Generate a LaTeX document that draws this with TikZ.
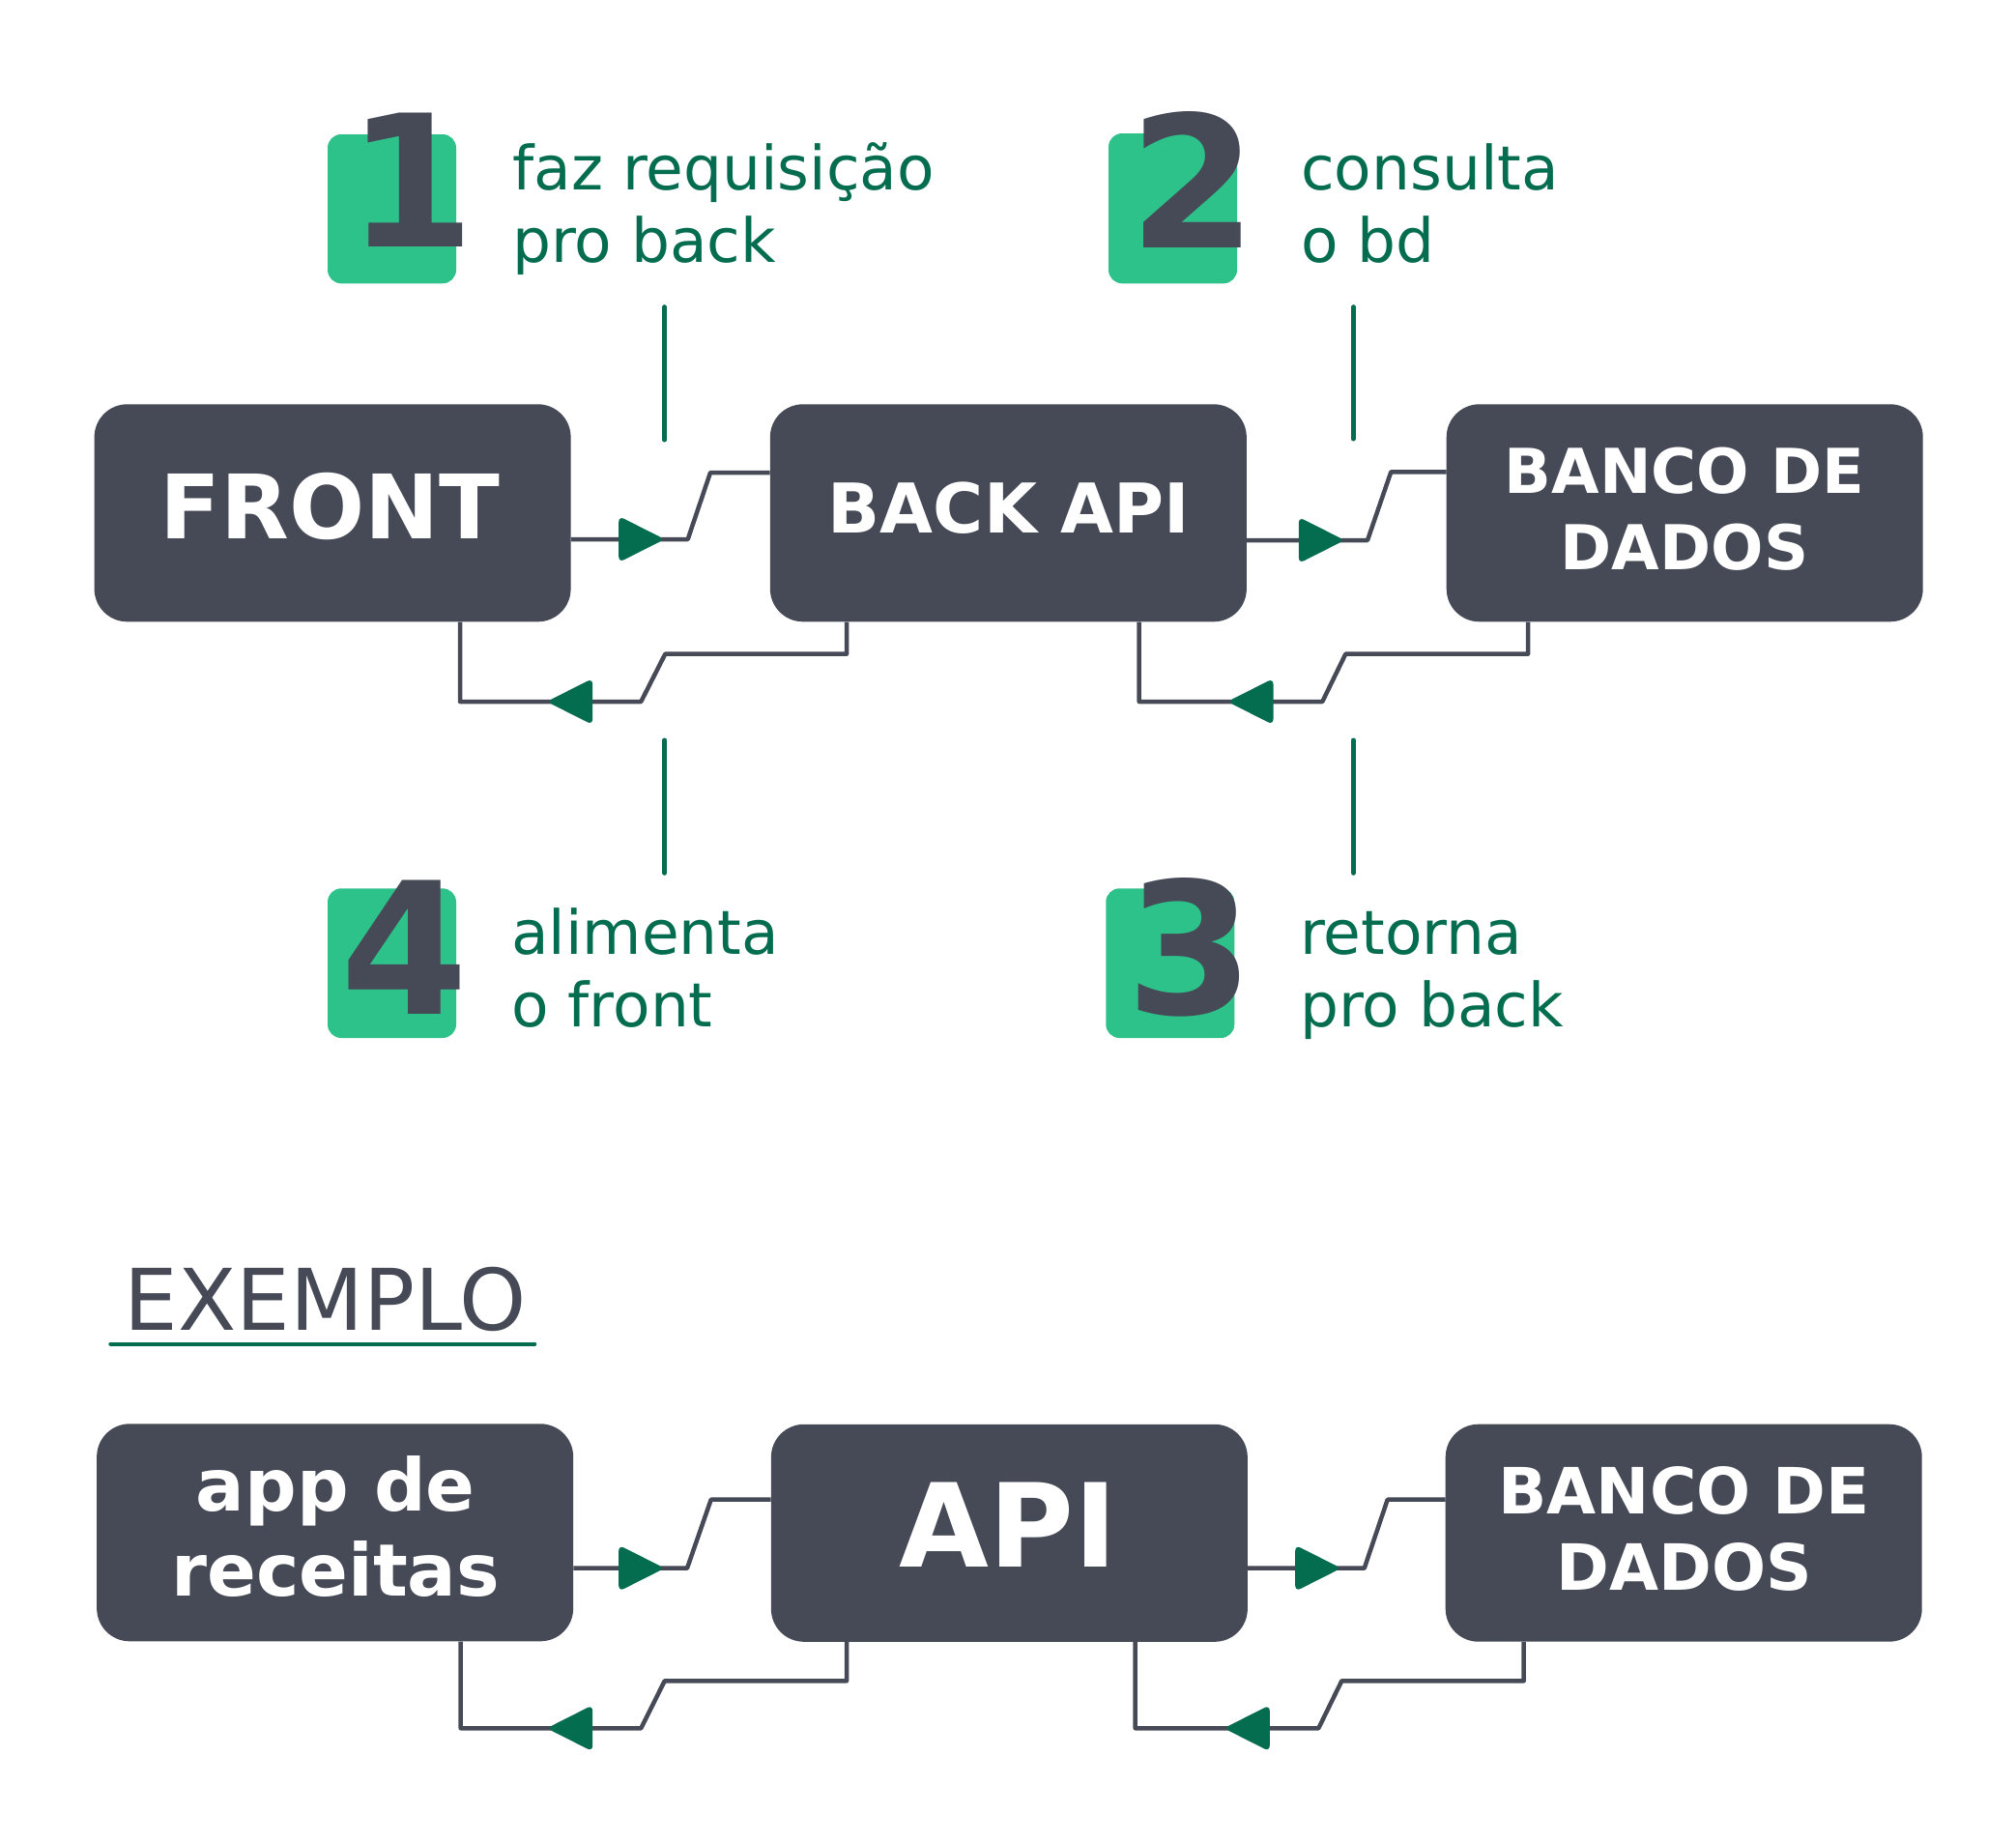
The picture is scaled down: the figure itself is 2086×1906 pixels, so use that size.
\documentclass[tikz,border=0pt]{standalone}
\usepackage{fontspec}
\setmainfont{DejaVu Sans}
\definecolor{boxgray}{HTML}{464A56}
\definecolor{badgegreen}{HTML}{2EC28B}
\definecolor{dgreen}{HTML}{046C4F}
\begin{document}
\begin{tikzpicture}[x=1pt,y=-1pt,
  box/.style={fill=boxgray, rounded corners=34pt, minimum width=493pt, minimum height=225pt, inner sep=0pt},
  badge/.style={fill=badgegreen, rounded corners=14pt},
  btxt/.style={text=white, font=\bfseries\fontsize{#1}{#1}\selectfont, inner sep=0pt, anchor=base},
  dig/.style={text=boxgray, font=\bfseries\fontsize{190}{190}\selectfont, inner sep=0pt, anchor=base},
  lbl/.style={text=dgreen, font=\fontsize{63}{75}\selectfont, inner sep=0pt, anchor=base west},
  conn/.style={draw=boxgray, line width=4.5pt, line join=round},
  tick/.style={draw=dgreen, line width=5pt, line cap=round},
  arrR/.pic={\fill[dgreen, rounded corners=6pt] (6,0) -- (-41.5,-24) -- (-41.5,24) -- cycle;},
  arrL/.pic={\fill[dgreen, rounded corners=6pt] (-6,0) -- (41.5,-24) -- (41.5,24) -- cycle;}
]
\useasboundingbox (0,0) rectangle (2086,1906);

% badges
\fill[badge] (339,139) rectangle (472,293.3);
\fill[badge] (1147,138) rectangle (1280,293.3);
\fill[badge] (339,919.3) rectangle (472,1074);
\fill[badge] (1144.3,919.3) rectangle (1277.3,1074);
\node[dig] (n1) at (426,255.7) {1};
\node[dig] (n2) at (1235,256) {2};
\node[dig] (n4) at (419,1049) {4};
\node[dig] (n3) at (1231.7,1049) {3};

% step labels
\node[lbl] (l1a) at (530,196.7) {faz requisição};
\node[lbl] (l1b) at (530,271.7) {pro back};
\node[lbl] (l2a) at (1346,196.7) {consulta};
\node[lbl] (l2b) at (1346,271.7) {o bd};
\node[lbl] (l4a) at (529,987.3) {alimenta};
\node[lbl] (l4b) at (529,1062.7) {o front};
\node[lbl] (l3a) at (1345,987.3) {retorna};
\node[lbl] (l3b) at (1345,1062.7) {pro back};

% ticks
\draw[tick] (687.7,317.7) -- (687.7,455);
\draw[tick] (687.7,766) -- (687.7,903.3);
\draw[tick] (1400.3,317.7) -- (1400.3,454);
\draw[tick] (1400.3,766) -- (1400.3,903.3);

% boxes
\node[box] (front) at (344.1,530.8) {};
\node[box] (back) at (1043.35,530.8) {};
\node[box] (db1) at (1743.2,530.8) {};
\node[box] (app) at (346.65,1585.8) {};
\node[box] (api) at (1044.35,1586.3) {};
\node[box] (db2) at (1742.2,1586.2) {};

\node[btxt=92] (frontT) at (341.2,557.3) {FRONT};
\node[btxt=71] (backT) at (1044,551) {BACK API};
\node[btxt=64] (db1a) at (1743,510) {BANCO DE};
\node[btxt=64] (db1b) at (1743,589.3) {DADOS};
\node[btxt=75] (appa) at (347.2,1563.3) {app de};
\node[btxt=75] (appb) at (347.2,1651.7) {receitas};
\node[btxt=120] (apiT) at (1043,1621) {API};
\node[btxt=66] (db2a) at (1742.5,1566.7) {BANCO DE};
\node[btxt=66] (db2b) at (1742.5,1645) {DADOS};

% connectors top row
\draw[conn] (front.east |- 0,558) -- (711.7,558) -- (735,489) -- (back.west |- 0,489);
\pic at (681.7,558) {arrR};
\draw[conn] (back.south -| 876,0) -- (876,676.7) -- (688.3,676.7) -- (663.3,726) -- (476,726) -- (front.south -| 476,0);
\pic at (571.7,726) {arrL};
\draw[conn] (back.east |- 0,559) -- (1415,559) -- (1439.3,488.3) -- (db1.west |- 0,488.3);
\pic at (1385.3,559) {arrR};
\draw[conn] (db1.south -| 1581,0) -- (1581,676.7) -- (1392.3,676.7) -- (1368.3,726) -- (1178.7,726) -- (back.south -| 1178.7,0);
\pic at (1276,726) {arrL};

% example
\node[font=\fontsize{88}{88}\selectfont, text=boxgray, inner sep=0pt, anchor=base west] (ex) at (128.7,1376.7) {EXEMPLO};
\draw[draw=dgreen, line width=4pt, line cap=round] (114.3,1390.7) -- (553.3,1390.7);

% connectors bottom row
\draw[conn] (app.east |- 0,1622.7) -- (711,1622.7) -- (735.7,1551.7) -- (api.west |- 0,1551.7);
\pic at (681.7,1622.7) {arrR};
\draw[conn] (api.south -| 876,0) -- (876,1739.3) -- (687.7,1739.3) -- (663.3,1788.3) -- (476.7,1788.3) -- (app.south -| 476.7,0);
\pic at (571.7,1788.3) {arrL};
\draw[conn] (api.east |- 0,1622.7) -- (1411.7,1622.7) -- (1435.7,1551.7) -- (db2.west |- 0,1551.7);
\pic at (1381.7,1622.7) {arrR};
\draw[conn] (db2.south -| 1576.7,0) -- (1576.7,1739.3) -- (1388.3,1739.3) -- (1364.3,1788.3) -- (1174.7,1788.3) -- (api.south -| 1174.7,0);
\pic at (1272.3,1788.3) {arrL};
\end{tikzpicture}
\end{document}
